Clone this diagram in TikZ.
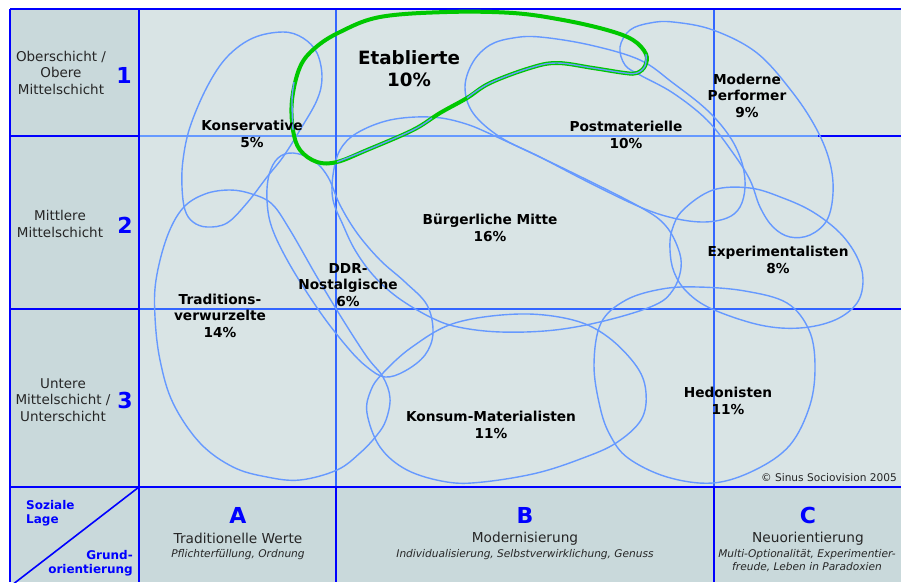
\documentclass[tikz,border=0pt]{standalone}
\usepackage{fontspec}
\setmainfont{DejaVu Sans}
\definecolor{cellgray}{RGB}{201,217,219}
\definecolor{fieldgray}{RGB}{217,228,229}
\definecolor{frameblue}{RGB}{0,0,255}
\definecolor{gridblue}{RGB}{51,102,255}
\definecolor{gridlight}{RGB}{102,153,255}
\definecolor{milieublue}{RGB}{102,153,255}
\definecolor{highlightgreen}{RGB}{0,200,0}
\tikzset{
  frameline/.style={draw=frameblue, line width=1.6pt},
  gridline/.style={draw=gridblue, line width=1.6pt},
  gridlightline/.style={draw=gridlight, line width=1.6pt},
  milieuloop/.style={draw=milieublue, line width=1.4pt},
  greenloop/.style={draw=highlightgreen, line width=4pt},
  milieutext/.style={font=\fontsize{13.7}{16.5}\selectfont\bfseries, text=black, align=center, inner sep=0pt, anchor=base},
  bigmilieutext/.style={font=\fontsize{18.3}{22}\selectfont\bfseries, text=black, align=center, inner sep=0pt, anchor=base},
  layertext/.style={font=\fontsize{13.5}{16.4}\selectfont, text=black!85, align=center, inner sep=0pt, anchor=base},
  layernum/.style={font=\fontsize{22}{24}\selectfont\bfseries, text=frameblue, inner sep=0pt, anchor=base},
  valuetext/.style={font=\fontsize{13.7}{16}\selectfont, text=black!85, align=center, inner sep=0pt, anchor=base},
  valuesub/.style={font=\fontsize{10.6}{13}\selectfont\itshape, text=black!85, align=center, inner sep=0pt, anchor=base},
  axislabel/.style={font=\fontsize{12}{14}\selectfont\bfseries, text=frameblue, inner sep=0pt},
}
\begin{document}
\begin{tikzpicture}[x=1pt,y=-1pt]
\fill[white] (0,0) rectangle (901,582);
\useasboundingbox (0,0) rectangle (901,582);

% cell backgrounds
\fill[fieldgray] (139,9) rectangle (901,487);
\fill[cellgray] (10,9) rectangle (139,582);
\fill[cellgray] (139,487) rectangle (901,582);

% grid
\draw[gridlightline] (139,136) -- (818,136);
\draw[frameline] (818,136) -- (901,136);
\draw[gridline] (139,309) -- (853,309);
\draw[frameline] (853,309) -- (901,309);
\draw[gridline] (336,9) -- (336,487);
\draw[gridline] (714,9) -- (714,487);
\draw[frameline] (336,487) -- (336,582);
\draw[frameline] (714,487) -- (714,582);
\draw[frameline] (10,136) -- (139,136);
\draw[frameline] (10,309) -- (139,309);
\draw[frameline] (10,487) -- (901,487);
\draw[frameline] (139,9) -- (139,582);
\draw[frameline] (10,9) -- (901,9);
\draw[frameline] (10,9) -- (10,582);
\draw[frameline] (139,487) -- (12,585);

% milieu outlines
% Konservative
\draw[milieuloop] plot[smooth cycle, tension=0.6] coordinates {(283,32) (303,38) (317,53) (322,77) (317,100) (300,130) (283,157) (267,177) (247,203) (227,223) (207,227) (193,222) (185,210) (182,187) (183,160) (190,127) (207,87) (227,57) (253,38)};
% Traditionsverwurzelte
\draw[milieuloop] plot[smooth cycle, tension=0.6] coordinates {(230,190) (252,194) (272,204) (290,230) (317,277) (343,320) (367,357) (383,377) (390,398) (386,420) (377,435) (360,453) (337,470) (300,480) (267,477) (233,467) (200,443) (173,403) (160,360) (155,317) (156,280) (167,237) (183,208) (205,194)};
% DDR-Nostalgische
\draw[milieuloop] plot[smooth cycle, tension=0.6] coordinates {(293,153) (278,158) (269,175) (267,200) (272,228) (290,265) (320,312) (348,348) (367,367) (385,377) (405,371) (425,355) (433,333) (427,305) (405,282) (380,260) (357,233) (340,205) (328,177) (313,160)};
% Buergerliche Mitte
\draw[milieuloop] plot[smooth cycle, tension=0.6] coordinates {(333,200) (333,175) (340,150) (357,133) (390,120) (430,117) (463,123) (497,137) (573,173) (640,207) (665,225) (678,248) (681,268) (673,290) (655,305) (608,320) (555,330) (501,332) (458,327) (430,317) (397,297) (373,275) (355,250) (343,225)};
% Postmaterielle
\draw[milieuloop] plot[smooth cycle, tension=0.6] coordinates {(465,87) (473,62) (490,45) (513,38) (540,37) (590,45) (640,60) (673,83) (707,110) (730,137) (742,163) (745,187) (740,207) (727,218) (703,222) (673,218) (640,207) (590,183) (540,157) (500,137) (473,113)};
% Moderne Performer
\draw[milieuloop] plot[smooth cycle, tension=0.6] coordinates {(620,47) (630,30) (650,23) (673,22) (713,30) (757,53) (793,93) (817,130) (830,163) (833,193) (827,220) (810,235) (790,237) (773,227) (760,207) (750,180) (733,153) (707,120) (673,93) (640,75) (625,65)};
% Experimentalisten
\draw[milieuloop] plot[smooth cycle, tension=0.6] coordinates {(683,210) (672,230) (670,250) (674,272) (687,292) (712,309) (760,325) (800,328) (835,320) (857,303) (863,280) (857,257) (840,233) (813,212) (783,198) (750,188) (713,190)};
% Konsum-Materialisten
\draw[milieuloop] plot[smooth cycle, tension=0.6] coordinates {(383,373) (412,347) (455,323) (519,314) (573,320) (608,337) (637,367) (646,393) (641,420) (616,443) (583,458) (537,473) (483,482) (447,482) (407,470) (380,447) (367,413) (371,390)};
% Hedonisten
\draw[milieuloop] plot[smooth cycle, tension=0.6] coordinates {(698,287) (745,291) (787,303) (809,330) (815,365) (810,405) (790,445) (755,470) (713,483) (667,477) (628,458) (610,435) (600,407) (594,365) (601,323) (626,300) (662,289)};

% Etablierte, highlighted
\draw[greenloop] plot[smooth cycle, tension=0.6] coordinates {(293,130) (292,100) (300,67) (315,48) (340,32) (380,17) (447,12) (513,13) (563,20) (607,30) (633,40) (646,54) (645,66) (637,73) (625,73) (593,68) (557,63) (530,68) (490,83) (467,98) (440,113) (413,130) (367,150) (337,162) (317,162) (300,150)};
\draw[milieuloop] plot[smooth, tension=0.6] coordinates {(294,82) (292,100) (293,130)};
\draw[milieuloop] plot[smooth, tension=0.6] coordinates {(337,162) (367,150) (413,130) (432,118)};
\draw[milieuloop] plot[smooth, tension=0.6] coordinates {(467,98) (490,83) (530,68) (557,63) (593,68) (625,73) (637,73) (645,66) (646,54)};

% milieu names (anchored at the baseline of the last line)
\node[milieutext] (kons) at (252,147) {Konservative\\5\%};
\node[bigmilieutext] (etab) at (409,86) {Etablierte\\10\%};
\node[milieutext] (post) at (626,148) {Postmaterielle\\10\%};
\node[milieutext] (perf) at (747,117) {Moderne\\Performer\\9\%};
\node[milieutext] (buerg) at (490,241) {Bürgerliche Mitte\\16\%};
\node[milieutext] (ddr) at (348,306) {DDR-\\Nostalgische\\6\%};
\node[milieutext] (trad) at (220,337) {Traditions-\\verwurzelte\\14\%};
\node[milieutext] (exp) at (778,273) {Experimentalisten\\8\%};
\node[milieutext] (konsum) at (491,438) {Konsum-Materialisten\\11\%};
\node[milieutext] (hedo) at (728,414) {Hedonisten\\11\%};
\node[font=\fontsize{10.6}{12}\selectfont, text=black!85, inner sep=0pt, anchor=base east] (copy) at (897,481) {© Sinus Sociovision 2005};

% social layers
\node[layertext] (lay1) at (61,94) {Oberschicht /\\Obere\\Mittelschicht};
\node[layernum] (num1) at (124,83) {1};
\node[layertext] (lay2) at (60,237) {Mittlere\\Mittelschicht};
\node[layernum] (num2) at (125,233) {2};
\node[layertext] (lay3) at (63,421) {Untere\\Mittelschicht /\\Unterschicht};
\node[layernum] (num3) at (125,408) {3};

% axis corner
\node[axislabel, align=left, anchor=base west] (lage) at (26,523) {Soziale\\Lage};
\node[axislabel, align=right, anchor=base east] (orient) at (133,573) {Grund-\\orientierung};

% basic orientations
\node[layernum] (colA) at (238,523) {A};
\node[valuetext] (valA) at (238,543) {Traditionelle Werte};
\node[valuesub] (subA) at (238,557) {Pflichterfüllung, Ordnung};
\node[layernum] (colB) at (525,523) {B};
\node[valuetext] (valB) at (525,542) {Modernisierung};
\node[valuesub] (subB) at (525,557) {Individualisierung, Selbstverwirklichung, Genuss};
\node[layernum] (colC) at (808,523) {C};
\node[valuetext] (valC) at (808,542) {Neuorientierung};
\node[valuesub] (subC) at (807,570) {Multi-Optionalität, Experimentier-\\freude, Leben in Paradoxien};
\end{tikzpicture}
\end{document}
